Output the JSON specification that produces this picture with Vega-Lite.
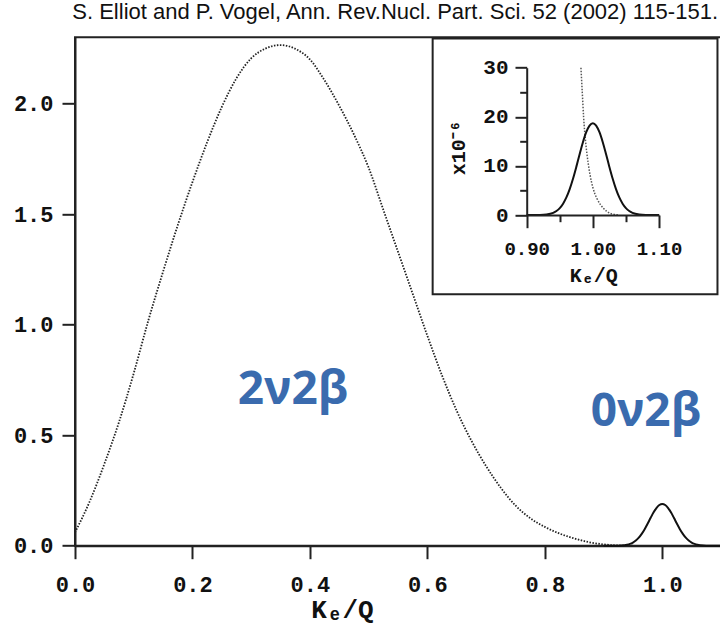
{
  "$schema": "https://vega.github.io/schema/vega-lite/v6.json",
  "width": 646,
  "height": 508.4,
  "autosize": {"type": "none"},
  "padding": {"left": 75, "top": 37.3, "right": 0, "bottom": 85.3},
  "background": "white",
  "title": {
    "text": "S. Elliot and P. Vogel, Ann. Rev.Nucl. Part. Sci. 52 (2002) 115-151.",
    "anchor": "end",
    "frame": "group",
    "font": "Liberation Sans",
    "fontSize": 22,
    "fontWeight": "normal",
    "color": "#111",
    "baseline": "alphabetic",
    "offset": -4,
    "dx": -3
  },
  "config": {
    "view": {"stroke": "#222", "strokeWidth": 2},
    "axis": {
      "grid": false,
      "domainColor": "#222",
      "domainWidth": 2,
      "tickColor": "#222",
      "tickWidth": 2,
      "labelFont": "Liberation Mono",
      "labelFontWeight": "bold",
      "labelColor": "#111",
      "titleFont": "Liberation Mono",
      "titleFontWeight": "bold",
      "titleColor": "#111"
    }
  },
  "datasets": {
    "twonu": [
      {"x": 0.0, "y": 0.06}, {"x": 0.025, "y": 0.2}, {"x": 0.05, "y": 0.37}, {"x": 0.075, "y": 0.56},
      {"x": 0.1, "y": 0.78}, {"x": 0.125, "y": 1.02}, {"x": 0.15, "y": 1.24}, {"x": 0.175, "y": 1.45},
      {"x": 0.2, "y": 1.645}, {"x": 0.225, "y": 1.825}, {"x": 0.25, "y": 1.985}, {"x": 0.275, "y": 2.115},
      {"x": 0.3, "y": 2.205}, {"x": 0.325, "y": 2.25}, {"x": 0.35, "y": 2.265}, {"x": 0.375, "y": 2.248},
      {"x": 0.4, "y": 2.2}, {"x": 0.425, "y": 2.105}, {"x": 0.45, "y": 1.99}, {"x": 0.475, "y": 1.86},
      {"x": 0.5, "y": 1.71}, {"x": 0.525, "y": 1.52}, {"x": 0.55, "y": 1.33}, {"x": 0.575, "y": 1.14},
      {"x": 0.6, "y": 0.95}, {"x": 0.625, "y": 0.77}, {"x": 0.65, "y": 0.61}, {"x": 0.675, "y": 0.475},
      {"x": 0.7, "y": 0.36}, {"x": 0.725, "y": 0.262}, {"x": 0.75, "y": 0.182}, {"x": 0.775, "y": 0.125},
      {"x": 0.8, "y": 0.085}, {"x": 0.825, "y": 0.055}, {"x": 0.85, "y": 0.033}, {"x": 0.875, "y": 0.016},
      {"x": 0.9, "y": 0.006}, {"x": 0.925, "y": 0.001}, {"x": 0.95, "y": 0.0}
    ],
    "zeronu": [
      {"x": 0.9, "y": 0.0}, {"x": 0.92, "y": 0.0002}, {"x": 0.93, "y": 0.0012}, {"x": 0.94, "y": 0.0046},
      {"x": 0.945, "y": 0.0083}, {"x": 0.95, "y": 0.0143}, {"x": 0.955, "y": 0.0233}, {"x": 0.96, "y": 0.0362},
      {"x": 0.965, "y": 0.0533}, {"x": 0.97, "y": 0.0746}, {"x": 0.975, "y": 0.099}, {"x": 0.98, "y": 0.125},
      {"x": 0.985, "y": 0.15}, {"x": 0.99, "y": 0.17}, {"x": 0.995, "y": 0.184}, {"x": 1.0, "y": 0.189},
      {"x": 1.005, "y": 0.184}, {"x": 1.01, "y": 0.17}, {"x": 1.015, "y": 0.15}, {"x": 1.02, "y": 0.125},
      {"x": 1.025, "y": 0.099}, {"x": 1.03, "y": 0.0746}, {"x": 1.035, "y": 0.0533}, {"x": 1.04, "y": 0.0362},
      {"x": 1.045, "y": 0.0233}, {"x": 1.05, "y": 0.0143}, {"x": 1.055, "y": 0.0083}, {"x": 1.06, "y": 0.0046},
      {"x": 1.07, "y": 0.0012}, {"x": 1.08, "y": 0.0002}, {"x": 1.1, "y": 0.0}
    ],
    "twonu_inset": [
      {"x": 0.982, "y": 30}, {"x": 0.984, "y": 25}, {"x": 0.986, "y": 20}, {"x": 0.989, "y": 15},
      {"x": 0.993, "y": 10.5}, {"x": 0.996, "y": 8}, {"x": 1.0, "y": 5.6}, {"x": 1.006, "y": 3.4},
      {"x": 1.011, "y": 2.2}, {"x": 1.016, "y": 1.36}, {"x": 1.021, "y": 0.75}, {"x": 1.026, "y": 0.34},
      {"x": 1.032, "y": 0.12}, {"x": 1.04, "y": 0.0}
    ],
    "zeronu_inset": [
      {"x": 0.9, "y": 0.0}, {"x": 0.92, "y": 0.025}, {"x": 0.93, "y": 0.12}, {"x": 0.94, "y": 0.45},
      {"x": 0.945, "y": 0.82}, {"x": 0.95, "y": 1.41}, {"x": 0.955, "y": 2.31}, {"x": 0.96, "y": 3.58},
      {"x": 0.965, "y": 5.27}, {"x": 0.97, "y": 7.38}, {"x": 0.975, "y": 9.8}, {"x": 0.98, "y": 12.37},
      {"x": 0.985, "y": 14.82}, {"x": 0.99, "y": 16.86}, {"x": 0.995, "y": 18.22}, {"x": 1.0, "y": 18.7},
      {"x": 1.005, "y": 18.22}, {"x": 1.01, "y": 16.86}, {"x": 1.015, "y": 14.82}, {"x": 1.02, "y": 12.37},
      {"x": 1.025, "y": 9.8}, {"x": 1.03, "y": 7.38}, {"x": 1.035, "y": 5.27}, {"x": 1.04, "y": 3.58},
      {"x": 1.045, "y": 2.31}, {"x": 1.05, "y": 1.41}, {"x": 1.055, "y": 0.82}, {"x": 1.06, "y": 0.45},
      {"x": 1.07, "y": 0.12}, {"x": 1.08, "y": 0.025}, {"x": 1.1, "y": 0.0}
    ],
    "labels": [
      {"x": 0.371, "y": 0.704, "label": "2ν2β"},
      {"x": 0.972, "y": 0.604, "label": "0ν2β"}
    ],
    "frame": [
      {"x": 0.609, "y": 1.138, "x2": 1.094, "y2": 2.295}
    ]
  },
  "layer": [
    {
      "encoding": {
        "x": {
          "field": "x", "type": "quantitative",
          "scale": {"domain": [0, 1.1], "nice": false, "zero": false},
          "axis": {
            "title": "Kₑ/Q", "values": [0, 0.2, 0.4, 0.6, 0.8, 1.0], "format": ".1f",
            "tickSize": 13, "labelPadding": 16, "labelFontSize": 22, "labelFlush": false,
            "titleFontSize": 26, "titleX": 267, "titleY": 64, "titleBaseline": "middle"
          }
        },
        "y": {
          "field": "y", "type": "quantitative",
          "scale": {"domain": [0, 2.3], "nice": false, "zero": false},
          "axis": {
            "title": null, "values": [0, 0.5, 1.0, 1.5, 2.0], "format": ".1f",
            "tickSize": 13, "labelPadding": 9, "labelFontSize": 22, "labelFlush": false
          }
        }
      },
      "layer": [
        {
          "data": {"name": "twonu"},
          "mark": {"type": "line", "color": "#222", "strokeWidth": 1.8, "strokeDash": [1.5, 1.5], "interpolate": "monotone"}
        },
        {
          "data": {"name": "zeronu"},
          "mark": {"type": "line", "color": "#111", "strokeWidth": 2, "interpolate": "monotone"}
        },
        {
          "data": {"name": "labels"},
          "mark": {"type": "text", "font": "Open Sans", "fontWeight": "bold", "fontSize": 46, "color": "#3A6BAE", "align": "center", "baseline": "middle"},
          "encoding": {"text": {"field": "label"}}
        },
        {
          "data": {"name": "frame"},
          "mark": {"type": "rect", "fill": "white", "stroke": "#222", "strokeWidth": 2},
          "encoding": {
            "x2": {"field": "x2"},
            "y2": {"field": "y2"}
          }
        }
      ]
    },
    {
      "encoding": {
        "x": {
          "field": "x", "type": "quantitative",
          "scale": {"domain": [0.9, 1.1], "range": [451.7, 584], "nice": false, "zero": false},
          "axis": {
            "orient": "bottom", "offset": -330.7, "zindex": 1,
            "title": "Kₑ/Q", "values": [0.9, 0.95, 1.0, 1.05, 1.1], "format": ".2f",
            "labelExpr": "round(datum.value*20) % 2 === 0 ? datum.label : ''",
            "tickSize": {"condition": {"test": "round(datum.value*20) % 2 === 0", "value": 12.7}, "value": 6.7},
            "labelPadding": 12, "labelFontSize": 19, "labelFlush": false,
            "titleFontSize": 20, "titleX": 518.3, "titleY": 60, "titleBaseline": "middle"
          }
        },
        "y": {
          "field": "y", "type": "quantitative",
          "scale": {"domain": [0, 30], "range": [177.7, 30.4], "nice": false, "zero": false},
          "axis": {
            "orient": "left", "offset": -451.7, "zindex": 1,
            "title": "x10⁻⁶", "values": [0, 5, 10, 15, 20, 25, 30], "format": "d",
            "labelExpr": "datum.value % 10 === 0 ? datum.label : ''",
            "tickSize": {"condition": {"test": "datum.value % 10 === 0", "value": 11.7}, "value": 7},
            "labelPadding": 7, "labelFontSize": 21, "labelFlush": false,
            "titleFontSize": 20, "titleX": -68.7, "titleY": 110, "titleAngle": -90, "titleBaseline": "middle", "titleAlign": "center"
          }
        }
      },
      "layer": [
        {
          "data": {"name": "twonu_inset"},
          "mark": {"type": "line", "color": "#555", "strokeWidth": 1.5, "strokeDash": [1.5, 1.5], "interpolate": "monotone"}
        },
        {
          "data": {"name": "zeronu_inset"},
          "mark": {"type": "line", "color": "#111", "strokeWidth": 2, "interpolate": "monotone"}
        }
      ]
    }
  ],
  "resolve": {
    "scale": {"x": "independent", "y": "independent"},
    "axis": {"x": "independent", "y": "independent"}
  }
}
